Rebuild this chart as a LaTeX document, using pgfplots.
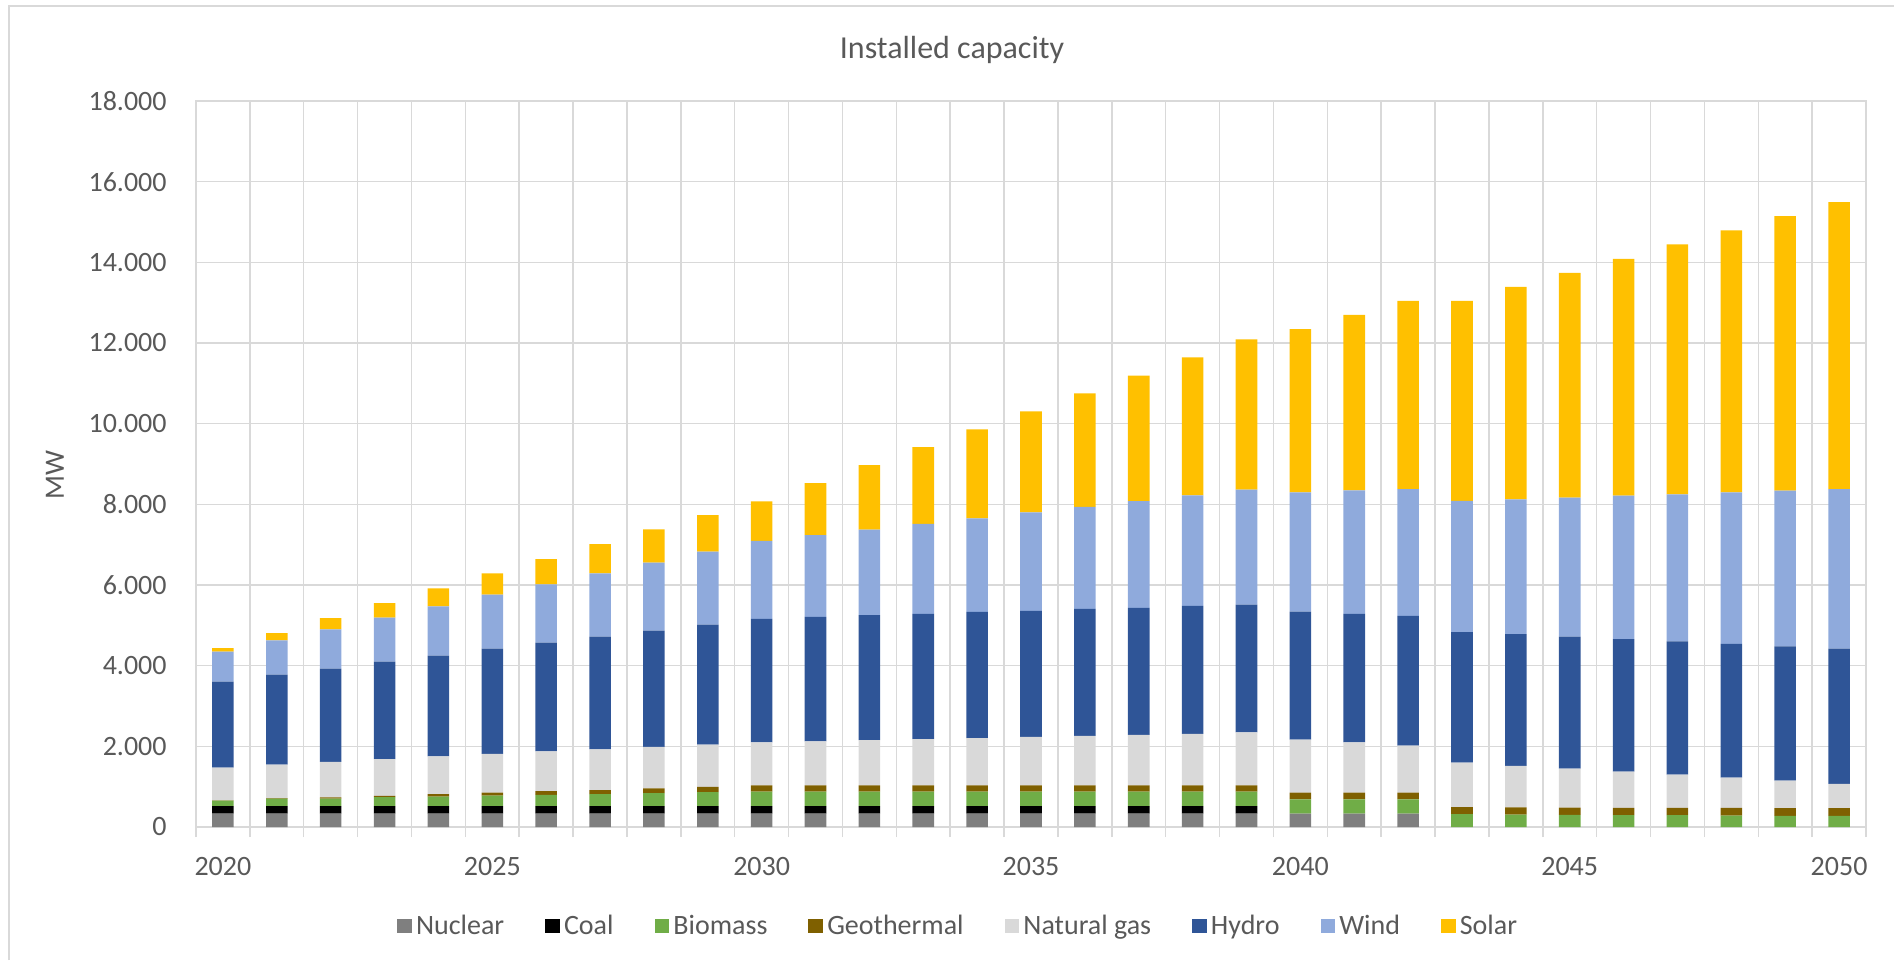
\documentclass[border=0pt]{standalone}
\usepackage{fontspec}
\setmainfont{Carlito}
\usepackage{pgfplots}
\usepackage{pgfplotstable}
\pgfplotsset{compat=1.18}
\definecolor{txt}{HTML}{595959}
\definecolor{grd}{HTML}{D9D9D9}
\definecolor{cNuc}{HTML}{7F7F7F}
\definecolor{cCoal}{HTML}{000000}
\definecolor{cBio}{HTML}{70AD47}
\definecolor{cGeo}{HTML}{7F6000}
\definecolor{cGas}{HTML}{D9D9D9}
\definecolor{cHyd}{HTML}{2F5597}
\definecolor{cWind}{HTML}{8FAADC}
\definecolor{cSol}{HTML}{FFC000}
\pgfplotstableread{
year nuc coal bio geo gas hydro wind solar
2020 330 190 134 5 814 2130 744 91
2021 330 190 184 10 834 2229 851 182
2022 330 190 184 33 878 2311 974 281
2023 330 190 218 33 911 2417 1091 363
2024 330 190 234 59 936 2499 1222 446
2025 330 190 259 75 962 2605 1338 529
2026 330 190 276 92 987 2695 1445 628
2027 330 190 293 100 1012 2794 1569 727
2028 330 190 318 117 1029 2883 1685 826
2029 330 190 343 134 1045 2974 1809 909
2030 330 190 360 150 1071 3059 1935 979
2031 330 190 360 150 1096 3084 2025 1292
2032 330 190 360 150 1121 3100 2124 1596
2033 330 190 360 150 1146 3108 2230 1902
2034 330 190 360 150 1171 3133 2320 2206
2035 330 190 360 150 1205 3123 2444 2502
2036 330 190 360 150 1230 3147 2527 2815
2037 330 190 360 150 1255 3147 2650 3111
2038 330 190 360 150 1280 3172 2740 3424
2039 330 190 360 150 1314 3171 2847 3728
2040 330 0 355 165 1318 3172 2957 4048
2041 330 0 355 165 1251 3181 3065 4353
2042 330 0 355 165 1167 3216 3147 4667
2043 0 0 318 176 1105 3231 3253 4964
2044 0 0 310 176 1029 3265 3344 5270
2045 0 0 301 180 967 3272 3445 5576
2046 0 0 293 183 897 3287 3555 5873
2047 0 0 293 183 821 3303 3648 6195
2048 0 0 285 187 750 3318 3757 6493
2049 0 0 276 190 681 3333 3859 6806
2050 0 0 276 192 603 3349 3960 7112
}\data
\begin{document}
\begin{tikzpicture}[x=1pt,y=1pt]
\path[use as bounding box] (0,0) rectangle (947,480);
\draw[grd, line width=0.7pt] (4.5,0) -- (4.5,477) -- (947,477);
\node[txt, font=\fontsize{16}{19}\selectfont] at (476,455) {Installed capacity};
\node[txt, rotate=90, font=\fontsize{14}{17}\selectfont] at (27.5,242.5) {MW};
\begin{axis}[at={(98pt,66.5pt)}, anchor=south west, scale only axis,
  width=835pt, height=363pt,
  ybar stacked, bar width=0.4,
  xmin=2019.5, xmax=2050.5, ymin=0, ymax=18000,
  xtick={2020,2025,...,2050},
  minor xtick={2019.5,2020.5,...,2050.5},
  ytick={0,2000,...,18000},
  xtick pos=bottom, ytick pos=left,
  major tick length=0pt, minor tick length=5pt, tick align=outside,
  ymajorgrids, xminorgrids,
  grid style={grd, line width=0.75pt},
  minor grid style={grd, line width=0.75pt},
  axis line style={grd, line width=0.75pt},
  minor tick style={grd, line width=0.75pt},
  tick label style={txt, font=\fontsize{14}{17}\selectfont},
  /pgf/number format/assume math mode=true,
  scaled y ticks=false,
  xticklabel style={/pgf/number format/1000 sep={}, anchor=center, yshift=-20pt, inner sep=0pt},
  yticklabel style={/pgf/number format/fixed, /pgf/number format/precision=0, /pgf/number format/1000 sep={.}, anchor=east, xshift=-14.5pt, inner sep=0pt},
  legend style={at={(0.457,-0.1364)}, anchor=center, draw=none, fill=none,
    legend columns=8, font=\fontsize{14}{17}\selectfont, text=txt,
    /tikz/every even column/.append style={column sep=18.5pt}},
  legend image code/.code={\fill[#1,draw=none] (0pt,-3.7pt) rectangle (7.4pt,3.7pt);},
]
\addplot[fill=cNuc, draw=none] table[x=year,y=nuc]{\data};
\addlegendentry{Nuclear}
\addplot[fill=cCoal, draw=none] table[x=year,y=coal]{\data};
\addlegendentry{Coal}
\addplot[fill=cBio, draw=none] table[x=year,y=bio]{\data};
\addlegendentry{Biomass}
\addplot[fill=cGeo, draw=none] table[x=year,y=geo]{\data};
\addlegendentry{Geothermal}
\addplot[fill=cGas, draw=none] table[x=year,y=gas]{\data};
\addlegendentry{Natural gas}
\addplot[fill=cHyd, draw=none] table[x=year,y=hydro]{\data};
\addlegendentry{Hydro}
\addplot[fill=cWind, draw=none] table[x=year,y=wind]{\data};
\addlegendentry{Wind}
\addplot[fill=cSol, draw=none] table[x=year,y=solar]{\data};
\addlegendentry{Solar}
\end{axis}
\end{tikzpicture}
\end{document}
